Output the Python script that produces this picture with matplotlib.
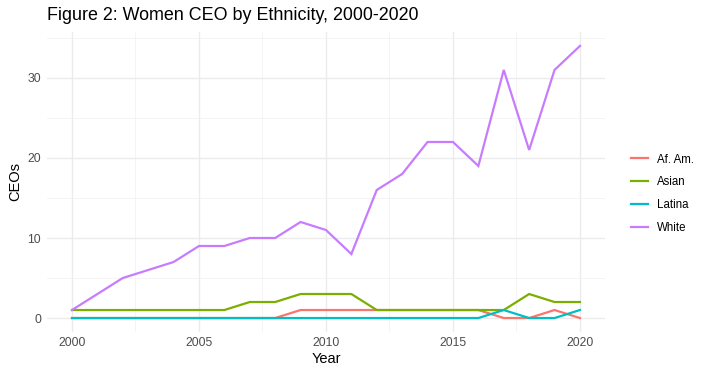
import matplotlib
matplotlib.use('Agg')
import matplotlib.pyplot as plt
from matplotlib.ticker import MultipleLocator
import numpy as np

# data
years = list(range(2000, 2021))
groups = ['Af. Am.', 'Asian', 'Latina', 'White']
af_am = [0, 0, 0, 0, 0, 0, 0, 0, 0, 1, 1, 1, 1, 1, 1, 1, 1, 0, 0, 1, 0]
asian = [1, 1, 1, 1, 1, 1, 1, 2, 2, 3, 3, 3, 1, 1, 1, 1, 1, 1, 3, 2, 2]
latina = [0, 0, 0, 0, 0, 0, 0, 0, 0, 0, 0, 0, 0, 0, 0, 0, 0, 1, 0, 0, 1]
white = [1, 3, 5, 6, 7, 9, 9, 10, 10, 12, 11, 8, 16, 18, 22, 22, 19, 31, 21, 31, 34]
colors = ['#F8766D', '#7CAE00', '#00BFC4', '#C77CFF']

plt.rcParams['font.family'] = ['Liberation Sans', 'DejaVu Sans']

fig = plt.figure(figsize=(7.1, 3.76), dpi=100)
ax = fig.add_axes([0.0656, 0.118, 0.787, 0.796])

for name, vals, col in zip(groups, [af_am, asian, latina, white], colors):
    ax.plot(years, vals, color=col, lw=1.6, label=name, solid_joinstyle='miter')

ax.set_xlim(1999, 2021)
ax.set_ylim(-1.7, 35.7)
ax.xaxis.set_major_locator(MultipleLocator(5))
ax.xaxis.set_minor_locator(MultipleLocator(2.5))
ax.yaxis.set_major_locator(MultipleLocator(10))
ax.yaxis.set_minor_locator(MultipleLocator(5))
ax.grid(True, which='major', color='#EBEBEB', lw=1.0)
ax.grid(True, which='minor', color='#F2F2F2', lw=0.6)
ax.set_axisbelow(True)
for s in ax.spines.values():
    s.set_visible(False)
ax.tick_params(which='both', length=0, labelsize=8.8, labelcolor='#4D4D4D', pad=4)

ax.set_xlabel('Year', fontsize=10.5, labelpad=2)
ax.set_ylabel('CEOs', fontsize=10.5, labelpad=4)
# title is aligned with the panel's left edge, as in ggplot
ax.text(0.0, 1.0 + 17 / 299, 'Figure 2: Women CEO by Ethnicity, 2000-2020', fontsize=12.85,
        va='center', ha='left', transform=ax.transAxes)

leg = ax.legend(loc='center left', bbox_to_anchor=(1.027, 0.46), frameon=False,
                fontsize=8.3, handlelength=1.5, handletextpad=0.8, labelspacing=0.95)

fig.savefig('out.png', dpi=100)
plt.close()
